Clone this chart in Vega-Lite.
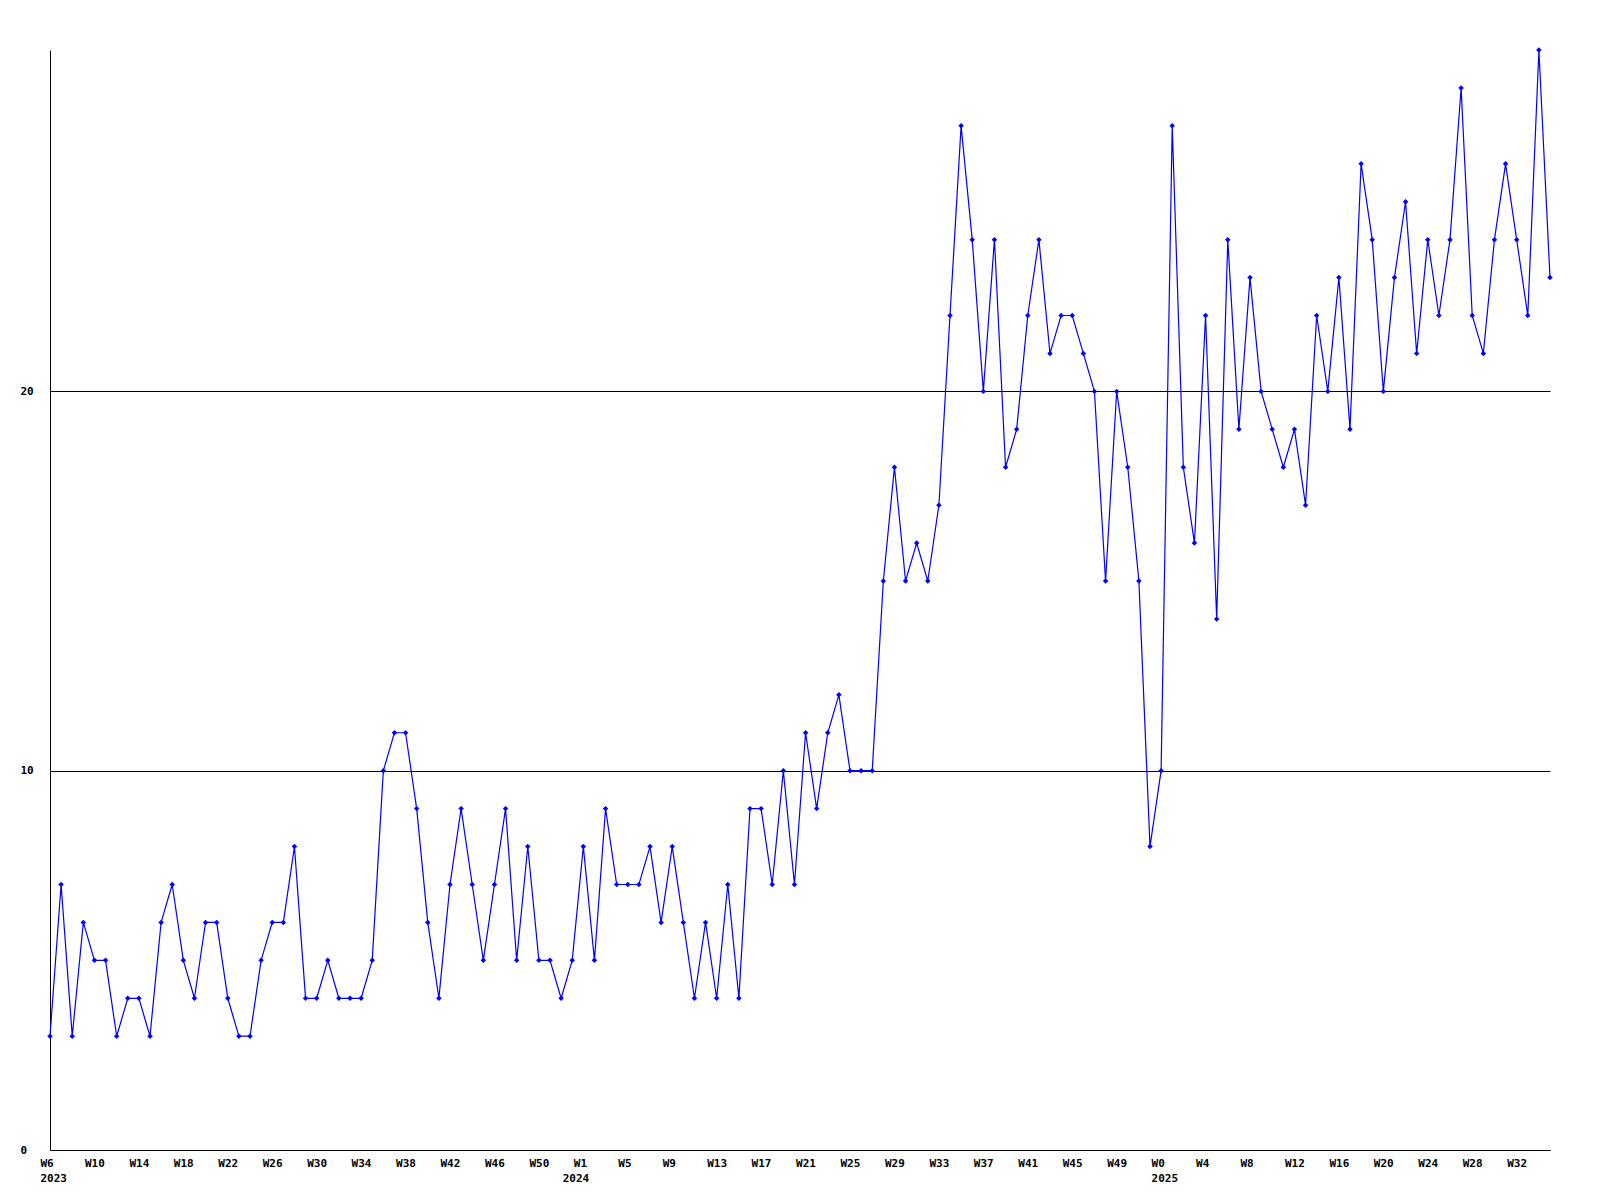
{
  "$schema": "https://vega.github.io/schema/vega-lite/v6.json",
  "width": 1500,
  "height": 1100,
  "autosize": "none",
  "padding": {"left": 50, "top": 50, "right": 50, "bottom": 50},
  "background": "white",
  "config": {
    "view": {"stroke": null},
    "axis": {"labelFont": "DejaVu Sans Mono", "labelFontWeight": "bold", "labelFontSize": 11, "labelColor": "black", "domainColor": "black", "domainWidth": 1}
  },
  "data": {"values": [
    {"week":"2023-W06","count":3},{"week":"2023-W07","count":7},{"week":"2023-W08","count":3},{"week":"2023-W09","count":6},{"week":"2023-W10","count":5},
    {"week":"2023-W11","count":5},{"week":"2023-W12","count":3},{"week":"2023-W13","count":4},{"week":"2023-W14","count":4},{"week":"2023-W15","count":3},
    {"week":"2023-W16","count":6},{"week":"2023-W17","count":7},{"week":"2023-W18","count":5},{"week":"2023-W19","count":4},{"week":"2023-W20","count":6},
    {"week":"2023-W21","count":6},{"week":"2023-W22","count":4},{"week":"2023-W23","count":3},{"week":"2023-W24","count":3},{"week":"2023-W25","count":5},
    {"week":"2023-W26","count":6},{"week":"2023-W27","count":6},{"week":"2023-W28","count":8},{"week":"2023-W29","count":4},{"week":"2023-W30","count":4},
    {"week":"2023-W31","count":5},{"week":"2023-W32","count":4},{"week":"2023-W33","count":4},{"week":"2023-W34","count":4},{"week":"2023-W35","count":5},
    {"week":"2023-W36","count":10},{"week":"2023-W37","count":11},{"week":"2023-W38","count":11},{"week":"2023-W39","count":9},{"week":"2023-W40","count":6},
    {"week":"2023-W41","count":4},{"week":"2023-W42","count":7},{"week":"2023-W43","count":9},{"week":"2023-W44","count":7},{"week":"2023-W45","count":5},
    {"week":"2023-W46","count":7},{"week":"2023-W47","count":9},{"week":"2023-W48","count":5},{"week":"2023-W49","count":8},{"week":"2023-W50","count":5},
    {"week":"2023-W51","count":5},{"week":"2023-W52","count":4},{"week":"2023-W53","count":5},
    {"week":"2024-W01","count":8},{"week":"2024-W02","count":5},{"week":"2024-W03","count":9},{"week":"2024-W04","count":7},{"week":"2024-W05","count":7},
    {"week":"2024-W06","count":7},{"week":"2024-W07","count":8},{"week":"2024-W08","count":6},{"week":"2024-W09","count":8},{"week":"2024-W10","count":6},
    {"week":"2024-W11","count":4},{"week":"2024-W12","count":6},{"week":"2024-W13","count":4},{"week":"2024-W14","count":7},{"week":"2024-W15","count":4},
    {"week":"2024-W16","count":9},{"week":"2024-W17","count":9},{"week":"2024-W18","count":7},{"week":"2024-W19","count":10},{"week":"2024-W20","count":7},
    {"week":"2024-W21","count":11},{"week":"2024-W22","count":9},{"week":"2024-W23","count":11},{"week":"2024-W24","count":12},{"week":"2024-W25","count":10},
    {"week":"2024-W26","count":10},{"week":"2024-W27","count":10},{"week":"2024-W28","count":15},{"week":"2024-W29","count":18},{"week":"2024-W30","count":15},
    {"week":"2024-W31","count":16},{"week":"2024-W32","count":15},{"week":"2024-W33","count":17},{"week":"2024-W34","count":22},{"week":"2024-W35","count":27},
    {"week":"2024-W36","count":24},{"week":"2024-W37","count":20},{"week":"2024-W38","count":24},{"week":"2024-W39","count":18},{"week":"2024-W40","count":19},
    {"week":"2024-W41","count":22},{"week":"2024-W42","count":24},{"week":"2024-W43","count":21},{"week":"2024-W44","count":22},{"week":"2024-W45","count":22},
    {"week":"2024-W46","count":21},{"week":"2024-W47","count":20},{"week":"2024-W48","count":15},{"week":"2024-W49","count":20},{"week":"2024-W50","count":18},
    {"week":"2024-W51","count":15},{"week":"2024-W52","count":8},
    {"week":"2025-W00","count":10},{"week":"2025-W01","count":27},{"week":"2025-W02","count":18},{"week":"2025-W03","count":16},{"week":"2025-W04","count":22},
    {"week":"2025-W05","count":14},{"week":"2025-W06","count":24},{"week":"2025-W07","count":19},{"week":"2025-W08","count":23},{"week":"2025-W09","count":20},
    {"week":"2025-W10","count":19},{"week":"2025-W11","count":18},{"week":"2025-W12","count":19},{"week":"2025-W13","count":17},{"week":"2025-W14","count":22},
    {"week":"2025-W15","count":20},{"week":"2025-W16","count":23},{"week":"2025-W17","count":19},{"week":"2025-W18","count":26},{"week":"2025-W19","count":24},
    {"week":"2025-W20","count":20},{"week":"2025-W21","count":23},{"week":"2025-W22","count":25},{"week":"2025-W23","count":21},{"week":"2025-W24","count":24},
    {"week":"2025-W25","count":22},{"week":"2025-W26","count":24},{"week":"2025-W27","count":28},{"week":"2025-W28","count":22},{"week":"2025-W29","count":21},
    {"week":"2025-W30","count":24},{"week":"2025-W31","count":26},{"week":"2025-W32","count":24},{"week":"2025-W33","count":22},{"week":"2025-W34","count":29},
    {"week":"2025-W35","count":23}
  ]},
  "encoding": {
    "x": {
      "field": "week", "type": "ordinal", "sort": null,
      "scale": {"type": "point", "padding": 0},
      "axis": {
        "title": null, "grid": false, "ticks": false, "tickSize": 0, "labelAngle": 0,
        "labelAlign": "left", "labelOffset": -10, "labelPadding": 7, "labelBaseline": "top", "labelLineHeight": 15,
        "labelOverlap": false, "labelBound": false, "labelFlush": false,
        "values": ["2023-W06","2023-W10","2023-W14","2023-W18","2023-W22","2023-W26","2023-W30","2023-W34","2023-W38","2023-W42","2023-W46","2023-W50","2023-W53",
                   "2024-W01","2024-W05","2024-W09","2024-W13","2024-W17","2024-W21","2024-W25","2024-W29","2024-W33","2024-W37","2024-W41","2024-W45","2024-W49",
                   "2025-W00","2025-W04","2025-W08","2025-W12","2025-W16","2025-W20","2025-W24","2025-W28","2025-W32"],
        "labelExpr": "datum.value == '2023-W53' ? ['', '2024'] : (indexof(['2023-W06','2025-W00'], datum.value) >= 0 ? ['W' + toNumber(substring(datum.value, 6)), substring(datum.value, 0, 4)] : 'W' + toNumber(substring(datum.value, 6)))"
      }
    },
    "y": {
      "field": "count", "type": "quantitative",
      "scale": {"domain": [0, 29], "nice": false, "zero": true},
      "axis": {
        "title": null, "values": [0, 10, 20], "grid": true, "gridColor": "black", "gridOpacity": 1, "gridWidth": 1,
        "ticks": false, "tickSize": 0, "labelAlign": "left", "labelPadding": 30, "labelBaseline": "middle"
      }
    }
  },
  "layer": [
    {"mark": {"type": "line", "color": "#0000ff", "strokeWidth": 1.2}},
    {"mark": {"type": "point", "shape": "diamond", "filled": true, "color": "#0000ff", "size": 30, "opacity": 1}}
  ]
}
